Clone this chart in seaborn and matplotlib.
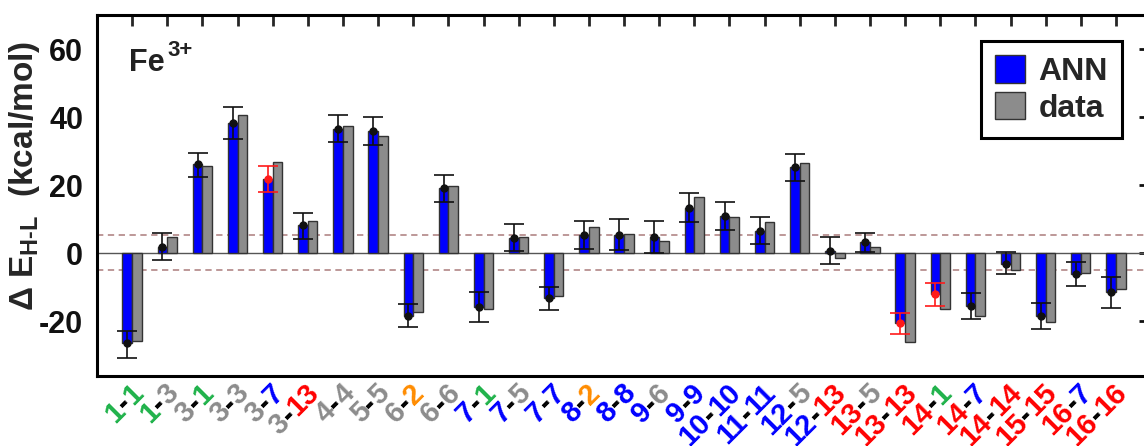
import numpy as np
import pandas as pd
import matplotlib
matplotlib.use("Agg")
import matplotlib.pyplot as plt
import matplotlib.transforms as mtransforms
import seaborn as sns
from matplotlib.patches import Patch

# -----------------------------
# Data
# -----------------------------
pairs = ["1-1", "1-3", "3-1", "3-3", "3-7", "3-13", "4-4", "5-5", "6-2", "6-6",
         "7-1", "7-5", "7-7", "8-2", "8-8", "9-6", "9-9", "10-10", "11-11", "12-5",
         "12-13", "13-5", "13-13", "14-1", "14-7", "14-14", "15-15", "16-7", "16-16"]

ann = [-26.2, 2.0, 26.2, 38.2, 21.9, 8.2, 36.5, 35.9, -18.4, 19.2,
       -15.7, 4.4, -13.2, 5.5, 5.5, 4.7, 13.4, 11.1, 6.7, 25.4,
       0.6, 3.2, -20.4, -12.0, -15.5, -3.0, -18.4, -6.1, -11.4]
ann_low = [-30.6, -1.8, 22.5, 33.6, 18.1, 4.1, 32.7, 31.8, -21.6, 15.2,
           -20.1, 0.6, -16.6, 1.2, 0.9, 0.0, 9.3, 7.0, 2.9, 21.3,
           -3.2, 0.3, -23.6, -15.5, -19.3, -6.1, -22.2, -9.6, -16.0]
ann_high = [-22.7, 6.1, 29.5, 43.1, 25.7, 12.0, 40.5, 40.0, -14.9, 23.0,
            -11.4, 8.5, -9.8, 9.6, 10.2, 9.6, 17.8, 15.2, 10.8, 29.2,
            4.7, 6.1, -17.5, -8.7, -11.7, 0.3, -14.6, -2.6, -7.0]
data = [-25.7, 4.7, 25.7, 40.5, 26.8, 9.6, 37.3, 34.4, -17.2, 19.8,
        -16.4, 4.7, -12.5, 7.6, 5.8, 3.5, 16.6, 10.8, 9.3, 26.6,
        -1.5, 1.8, -26.0, -16.3, -18.4, -5.0, -20.1, -5.8, -10.5]

red_pairs = ["3-7", "13-13", "14-1"]

# colour of each ligand number in the tick labels
num_colors = {"1": "#1fb24a", "2": "#ff8c00", "3": "#8c8c8c", "4": "#8c8c8c",
              "5": "#8c8c8c", "6": "#8c8c8c", "7": "#0000ff", "8": "#0000ff",
              "9": "#0000ff", "10": "#0000ff", "11": "#0000ff", "12": "#0000ff",
              "13": "#ff0000", "14": "#ff0000", "15": "#ff0000", "16": "#ff0000"}

# -----------------------------
# Style
# -----------------------------
sns.set_theme(style="white")
plt.rcParams["font.family"] = ["Liberation Sans", "DejaVu Sans"]
plt.rcParams["font.weight"] = "bold"
plt.rcParams["axes.unicode_minus"] = False
plt.rcParams["mathtext.fontset"] = "custom"
plt.rcParams["mathtext.rm"] = "Liberation Sans:bold"
plt.rcParams["mathtext.it"] = "Liberation Sans:bold"
plt.rcParams["mathtext.bf"] = "Liberation Sans:bold"
plt.rcParams["mathtext.sf"] = "Liberation Sans:bold"

DPI = 100
fig = plt.figure(figsize=(11.44, 4.46), dpi=DPI)
ax = fig.add_axes([0.0848, 0.157, 0.9214, 0.8094])

n = len(pairs)
df = pd.DataFrame({"pair": pairs * 2,
                   "value": ann + data,
                   "kind": ["ANN"] * n + ["data"] * n})

sns.barplot(data=df, x="pair", y="value", hue="kind", order=pairs,
            hue_order=["ANN", "data"],
            palette={"ANN": "#0000ff", "data": "#8c8c8c"},
            width=0.55, saturation=1, edgecolor="#333333", linewidth=1,
            errorbar=None, legend=False, ax=ax, zorder=3)

# error bars on the ANN bars
x_ann = np.arange(n) - 0.1375
ann_a = np.array(ann)
lo = ann_a - np.array(ann_low)
hi = np.array(ann_high) - ann_a
is_red = np.array([p in red_pairs for p in pairs])
for mask, col in [(~is_red, "#111111"), (is_red, "#ff1a1a")]:
    ax.errorbar(x_ann[mask], ann_a[mask], yerr=[lo[mask], hi[mask]], fmt="o",
                color=col, ms=5, capsize=7, elinewidth=1.2, capthick=1.2,
                zorder=5)

# reference lines
ax.axhline(0, color="#555555", lw=1, zorder=2)
for yv in [5.5, -5.0]:
    ax.axhline(yv, color="#b89090", lw=1.3, ls=(0, (3.5, 2.5)), zorder=1)

ax.set_xlim(-1, 29)
ax.set_ylim(-36, 70)
ax.set_yticks([-20, 0, 20, 40, 60])
ax.set_xticks(range(n))
ax.set_xticklabels([])
ax.set_xlabel("")
ax.tick_params(axis="y", direction="in", right=True, length=9, width=2,
               labelsize=22, pad=10, colors="#111111")
ax.tick_params(axis="x", direction="in", top=True, length=8, width=2)
for s in ax.spines.values():
    s.set_linewidth(2.2)
    s.set_color("black")

ax.set_ylabel(r"Δ E$_{\mathrm{H\text{-}L}}$  (kcal/mol)", fontsize=24,
              fontweight="bold")
ax.yaxis.set_label_coords(-0.052, 0.555)

ax.text(0.030, 0.845, "Fe", transform=ax.transAxes,
        fontsize=22, fontweight="bold", va="baseline", ha="left",
        color="#222222")
ax.text(0.067, 0.885, "3+", transform=ax.transAxes,
        fontsize=16, fontweight="bold", va="baseline", ha="left",
        color="#222222")

leg = ax.legend(handles=[Patch(facecolor="#0000ff", edgecolor="#333333", lw=1, label="ANN"),
                         Patch(facecolor="#8c8c8c", edgecolor="#333333", lw=1, label="data")],
                loc="upper right", bbox_to_anchor=(1122 / 1144, 1 - 41 / 446),
                bbox_transform=fig.transFigure, borderaxespad=0, frameon=True,
                fancybox=False, edgecolor="black", framealpha=1,
                prop={"size": 23, "weight": "bold"}, handlelength=0.95,
                handleheight=0.95, labelspacing=0.15, borderpad=0.45,
                handletextpad=0.4)
leg.get_frame().set_linewidth(2.2)

# -----------------------------
# Multi-coloured rotated tick labels
# -----------------------------
fig.canvas.draw()
renderer = fig.canvas.get_renderer()
LABEL_SIZE = 21


def text_width(s):
    t = fig.text(0, 0, s, fontsize=LABEL_SIZE, fontweight="bold")
    w = t.get_window_extent(renderer).width
    t.remove()
    return w


trans = mtransforms.blended_transform_factory(ax.transData, ax.transAxes)
c45 = np.cos(np.radians(45))
for i, p in enumerate(pairs):
    a, b = p.split("-")
    pieces = [(a, num_colors[a]), ("-", "black"), (b, num_colors[b])]
    full_w = text_width(p)
    prefix = ""
    for txt, col in pieces:
        prefix += txt
        back = full_w - text_width(prefix)  # px from the label end
        dx = -3 - back * c45
        dy = -3 - back * c45
        ax.annotate(txt, xy=(i, 0), xycoords=trans,
                    xytext=(dx * 72 / DPI, dy * 72 / DPI), textcoords="offset points",
                    rotation=45, rotation_mode="anchor", ha="right", va="top",
                    fontsize=LABEL_SIZE, fontweight="bold", color=col,
                    annotation_clip=False)

fig.savefig("out.png", dpi=DPI)
